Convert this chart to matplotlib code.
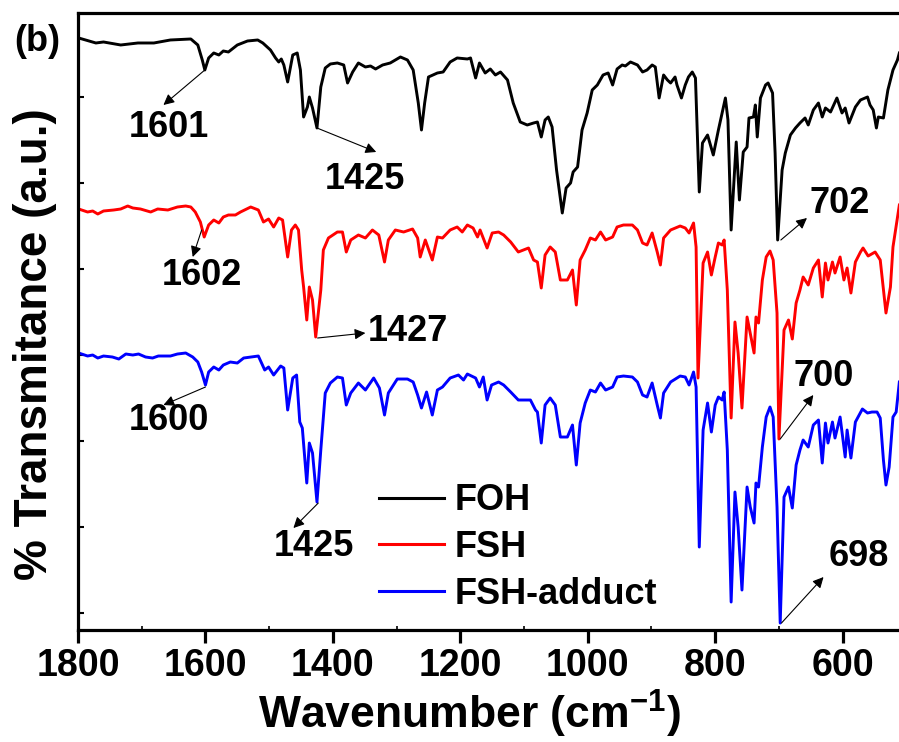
import matplotlib
matplotlib.use('Agg')
import matplotlib.pyplot as plt
from matplotlib.ticker import MultipleLocator

# FT-IR spectra, offset vertically (a.u.)
foh_wn = [1799, 1772, 1760, 1733, 1706, 1681, 1655, 1623, 1612, 1605, 1601, 1595, 1587, 1579, 1572,
          1564, 1556, 1550, 1534, 1518, 1510, 1498, 1490, 1485, 1481, 1477, 1471, 1463, 1456, 1451,
          1446, 1440, 1437, 1432, 1425, 1419, 1412, 1404, 1393, 1383, 1377, 1369, 1360, 1349, 1341,
          1333, 1322, 1310, 1294, 1283, 1274, 1266, 1261, 1256, 1250, 1236, 1227, 1216, 1205, 1189,
          1184, 1176, 1170, 1161, 1153, 1145, 1137, 1126, 1117, 1106, 1095, 1085, 1079, 1073, 1067,
          1062, 1056, 1049, 1040, 1034, 1027, 1023, 1016, 1009, 1001, 993, 985, 976, 968, 961,
          954, 946, 941, 933, 922, 914, 907, 899, 894, 888, 881, 875, 870, 863, 860,
          853, 847, 842, 836, 831, 825, 820, 812, 803, 795, 784, 780, 775, 767, 762,
          756, 750, 747, 740, 737, 734, 729, 721, 717, 710, 706, 702, 695, 690, 682,
          674, 667, 659, 654, 646, 638, 632, 627, 619, 609, 601, 596, 590, 580, 572,
          561, 557, 552, 547, 544, 536, 529, 521, 514, 511]
foh_t = [592, 587, 588, 585, 587, 587, 590, 591, 585, 570, 560, 572, 577, 575, 579,
         578, 582, 585, 589, 590, 587, 580, 572, 568, 571, 565, 548, 575, 577, 560,
         513, 523, 533, 522, 502, 543, 562, 566, 567, 565, 547, 558, 567, 563, 564,
         561, 565, 567, 573, 570, 560, 527, 500, 527, 553, 557, 558, 568, 572, 571,
         572, 552, 567, 557, 561, 555, 558, 550, 527, 508, 505, 507, 508, 493, 510,
         513, 503, 460, 417, 442, 447, 458, 463, 500, 517, 540, 545, 555, 557, 545,
         561, 565, 564, 568, 565, 558, 560, 565, 563, 532, 555, 550, 547, 553, 545,
         532, 545, 553, 558, 552, 438, 487, 495, 475, 500, 532, 510, 400, 488, 430,
         478, 483, 512, 513, 525, 493, 532, 545, 547, 537, 477, 390, 460, 477, 495,
         502, 507, 512, 505, 520, 527, 513, 522, 518, 532, 517, 522, 507, 523, 530,
         533, 525, 520, 502, 513, 512, 540, 560, 570, 577]

fsh_wn = [1799, 1785, 1777, 1769, 1760, 1744, 1733, 1722, 1714, 1702, 1686, 1675, 1659, 1644, 1631,
          1623, 1616, 1608, 1602, 1595, 1587, 1579, 1572, 1564, 1553, 1545, 1529, 1517, 1509, 1501,
          1493, 1485, 1479, 1471, 1465, 1459, 1454, 1449, 1446, 1441, 1437, 1432, 1427, 1419, 1415,
          1407, 1393, 1385, 1379, 1372, 1360, 1349, 1338, 1328, 1319, 1313, 1302, 1289, 1275, 1267,
          1263, 1255, 1244, 1236, 1228, 1216, 1205, 1197, 1189, 1180, 1173, 1169, 1158, 1150, 1140,
          1132, 1121, 1109, 1093, 1085, 1079, 1073, 1067, 1059, 1051, 1043, 1032, 1024, 1018, 1012,
          1004, 996, 988, 980, 972, 961, 954, 944, 930, 922, 914, 907, 899, 891, 886,
          881, 870, 855, 847, 841, 834, 830, 827, 819, 812, 806, 800, 795, 789, 786,
          781, 775, 769, 764, 758, 750, 743, 739, 736, 732, 726, 720, 714, 709, 703,
          700, 692, 685, 679, 673, 667, 662, 654, 646, 638, 632, 627, 623, 616, 612,
          604, 598, 593, 587, 580, 572, 568, 560, 549, 541, 536, 532, 525, 521, 511]
fsh_t = [421, 418, 419, 416, 419, 420, 421, 424, 422, 421, 418, 421, 420, 423, 424,
         423, 418, 408, 393, 405, 410, 407, 413, 415, 415, 418, 423, 420, 408, 411,
         403, 412, 410, 373, 400, 405, 400, 360, 343, 310, 343, 330, 293, 340, 380,
         392, 398, 398, 378, 390, 395, 392, 400, 395, 368, 390, 400, 398, 401, 392,
         373, 390, 370, 393, 392, 400, 403, 398, 405, 402, 393, 400, 382, 397, 398,
         395, 388, 378, 382, 370, 368, 342, 375, 383, 378, 350, 350, 360, 325, 370,
         380, 392, 390, 398, 390, 393, 403, 405, 405, 400, 387, 385, 397, 378, 365,
         392, 400, 404, 402, 397, 407, 383, 252, 367, 378, 355, 373, 387, 385, 390,
         340, 212, 308, 277, 222, 313, 290, 277, 313, 307, 350, 373, 379, 370, 317,
         191, 300, 310, 291, 327, 340, 353, 345, 362, 370, 333, 367, 350, 368, 357,
         373, 350, 362, 337, 368, 378, 382, 374, 378, 370, 340, 317, 343, 383, 425]

adduct_wn = [1799, 1785, 1777, 1769, 1760, 1746, 1736, 1725, 1714, 1705, 1694, 1683, 1674, 1655, 1644,
             1631, 1620, 1612, 1606, 1600, 1595, 1587, 1579, 1572, 1561, 1550, 1540, 1529, 1517, 1507,
             1501, 1493, 1482, 1477, 1471, 1463, 1457, 1452, 1448, 1441, 1437, 1432, 1425, 1419, 1412,
             1404, 1393, 1385, 1379, 1372, 1360, 1349, 1336, 1327, 1319, 1313, 1299, 1283, 1274, 1267,
             1261, 1253, 1244, 1236, 1228, 1216, 1203, 1195, 1189, 1176, 1170, 1164, 1158, 1151, 1140,
             1132, 1121, 1109, 1090, 1082, 1079, 1073, 1067, 1059, 1051, 1043, 1032, 1024, 1018, 1012,
             1004, 996, 988, 980, 972, 961, 954, 944, 930, 922, 914, 907, 899, 891, 886,
             881, 870, 855, 847, 841, 834, 830, 825, 819, 812, 806, 800, 795, 789, 786,
             781, 775, 769, 764, 758, 750, 745, 739, 736, 732, 726, 720, 714, 709, 703,
             698, 692, 685, 679, 673, 667, 662, 654, 646, 638, 632, 627, 623, 616, 612,
             604, 596, 593, 587, 580, 569, 561, 554, 546, 541, 536, 532, 527, 521, 516, 511]
adduct_t = [277, 274, 275, 272, 274, 273, 271, 276, 275, 276, 273, 272, 274, 274, 276,
            277, 273, 268, 258, 245, 258, 263, 260, 265, 268, 267, 272, 273, 274, 260,
            263, 255, 264, 262, 220, 252, 255, 208, 202, 147, 187, 177, 128, 180, 237,
            247, 253, 252, 225, 237, 247, 240, 252, 242, 215, 237, 251, 251, 248, 235,
            222, 238, 215, 240, 243, 252, 255, 250, 256, 252, 243, 253, 230, 245, 248,
            245, 238, 230, 230, 220, 218, 187, 225, 232, 225, 193, 193, 205, 165, 207,
            227, 240, 238, 247, 240, 243, 253, 254, 253, 248, 235, 233, 247, 225, 212,
            237, 248, 254, 253, 245, 258, 243, 83, 200, 227, 198, 225, 233, 230, 238,
            180, 28, 138, 103, 40, 143, 123, 107, 147, 143, 183, 213, 223, 213, 123,
            7, 133, 143, 122, 165, 180, 190, 183, 205, 210, 167, 207, 187, 208, 192,
            213, 173, 200, 172, 208, 221, 217, 218, 218, 212, 170, 145, 163, 213, 218, 248]

# peak labels: text, peak position, arrow head, label centre
peaks = [
    ('1601', (1601, 560), (1666, 525), (1658, 502)),
    ('1425', (1425, 502), (1332, 478), (1349, 450)),
    ('1602', (1606, 400), (1620, 373), (1605, 355)),
    ('1427', (1424, 292), (1349, 297), (1283, 299)),
    ('1600', (1600, 243), (1666, 225), (1658, 210)),
    ('1425', (1423, 127), (1462, 102), (1430, 84)),
    ('702', (697, 390), (656, 412), (605, 426)),
    ('700', (698, 191), (646, 235), (629, 254)),
    ('698', (696, 7), (630, 53), (575, 74)),
]

plt.rcParams['font.family'] = ['Liberation Sans', 'DejaVu Sans']
plt.rcParams['font.weight'] = 'bold'
plt.rcParams['mathtext.fontset'] = 'custom'
plt.rcParams['mathtext.rm'] = 'Liberation Sans:bold'
plt.rcParams['mathtext.bf'] = 'Liberation Sans:bold'

fig = plt.figure(figsize=(8.99, 7.42), dpi=100)
ax = fig.add_axes([0.0868, 0.1509, 0.9143, 0.8316])

ax.plot(foh_wn, foh_t, color='black', lw=2.1, label='FOH')
ax.plot(fsh_wn, fsh_t, color='red', lw=2.1, label='FSH')
ax.plot(adduct_wn, adduct_t, color='blue', lw=2.1, label='FSH-adduct')

for lab, pk, head, txt in peaks:
    ax.annotate('', xy=head, xytext=pk,
                arrowprops=dict(arrowstyle='-|>', color='black', lw=0.8,
                                mutation_scale=16, shrinkA=0, shrinkB=0))
    ax.text(txt[0], txt[1], lab, ha='center', va='center', fontsize=26, fontweight='bold')

ax.set_xlim(1800, 510)
ax.set_ylim(0, 617)
ax.xaxis.set_major_locator(MultipleLocator(200))
ax.xaxis.set_minor_locator(MultipleLocator(100))
ax.set_yticks(range(17, 617, 86))
ax.set_yticklabels([])
ax.spines['right'].set_visible(False)
for s in ['left', 'bottom', 'top']:
    ax.spines[s].set_linewidth(2.3)
ax.tick_params(axis='x', which='major', direction='out', length=9, width=2.3,
               labelsize=27, pad=4, top=False)
ax.tick_params(axis='x', which='minor', direction='in', length=3, width=1.2, top=False)
ax.tick_params(axis='y', which='major', direction='in', length=4, width=1.5)
for t in ax.get_xticklabels():
    t.set_fontweight('bold')

ax.set_xlabel('Wavenumber (cm$^{\\mathbf{-1}}$)', fontsize=32, fontweight='bold')
ax.xaxis.set_label_coords(0.476, -0.093)
ax.set_ylabel('% Transmitance (a.u.)', fontsize=33, fontweight='bold')
ax.yaxis.set_label_coords(-0.025, 0.464)

leg = ax.legend(loc='upper left', bbox_to_anchor=(0.366, 0.238), frameon=False,
                fontsize=26, handlelength=1.8, handletextpad=0.3, labelspacing=0.33,
                borderpad=0, borderaxespad=0)
for ln in leg.get_lines():
    ln.set_linewidth(2.2)

fig.text(0.041, 0.944, '(b)', fontsize=26, fontweight='bold', ha='center', va='center')

fig.savefig('out.png', dpi=100)
